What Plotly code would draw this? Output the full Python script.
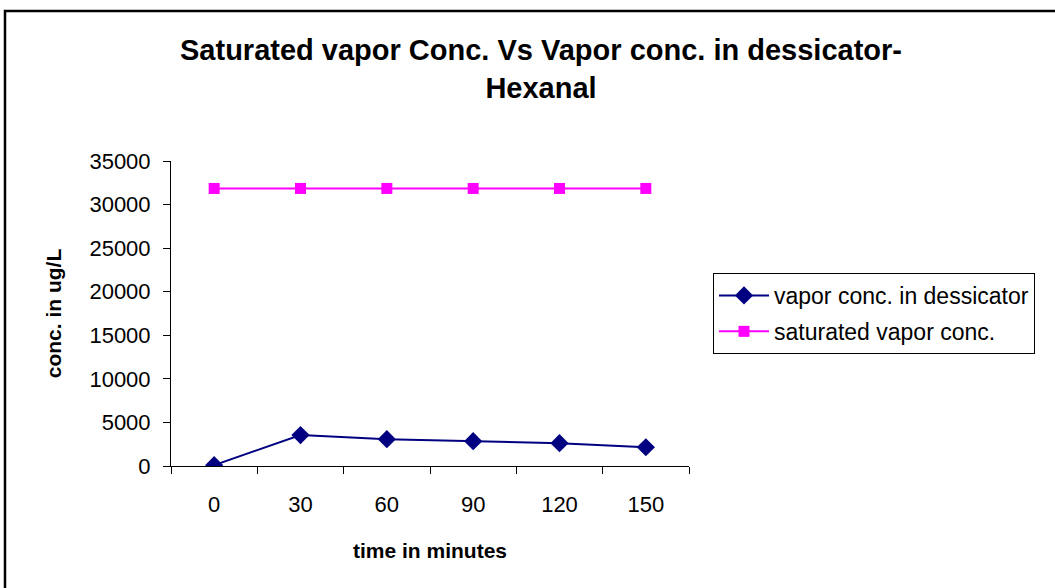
import plotly.graph_objects as go

categories = ["0", "30", "60", "90", "120", "150"]
vapor_in_dessicator = [100, 3550, 3080, 2850, 2620, 2150]
saturated_vapor = [31850, 31850, 31850, 31850, 31850, 31850]
y_ticks = [0, 5000, 10000, 15000, 20000, 25000, 30000, 35000]

fig = go.Figure()
fig.add_trace(go.Scatter(
    x=categories, y=vapor_in_dessicator, mode="lines+markers",
    name="vapor conc. in dessicator", legendgroup="a",
    line=dict(color="#000080", width=2),
    marker=dict(symbol="diamond", size=14, color="#000080"),
))
fig.add_trace(go.Scatter(
    x=categories, y=saturated_vapor, mode="lines+markers",
    name="saturated vapor conc.", legendgroup="b",
    line=dict(color="#FF00FF", width=2),
    marker=dict(symbol="square", size=11, color="#FF00FF"),
))

L, R, T, B = 171, 689, 161, 466
W, H = 1055, 588
pw, ph = R - L, B - T

fig.update_layout(
    width=W, height=H,
    margin=dict(l=L, r=W - R, t=T, b=H - B),
    paper_bgcolor="white", plot_bgcolor="white",
    font=dict(family="Liberation Sans, Arial, sans-serif", size=20, color="black"),
    title=dict(
        text="<b>Saturated vapor Conc. Vs Vapor conc. in dessicator-<br>Hexanal</b>",
        x=541 / W, xanchor="center", y=1 - 60 / H, yanchor="middle",
        font=dict(size=29, color="black"),
    ),
    xaxis=dict(
        type="category", tickson="boundaries", ticks="outside", ticklen=7,
        tickcolor="black", showline=True, linecolor="black", linewidth=1,
        showgrid=False, zeroline=False, range=[-0.5, 5.5],
        tickfont=dict(size=22), ticklabelstandoff=19,
        title=dict(text="<b>time in minutes</b>", font=dict(size=21), standoff=26),
    ),
    yaxis=dict(
        range=[0, 35000], tickvals=y_ticks, tickformat="d", ticks="outside", ticklen=7,
        tickcolor="black", showline=True, linecolor="black", linewidth=1,
        showgrid=False, zeroline=False, tickfont=dict(size=22), ticklabelstandoff=8,
        title=dict(text="<b>conc. in ug/L</b>", font=dict(size=21), standoff=22),
    ),
    legend=dict(
        x=(713 - L) / pw, xanchor="left", y=(B - 273) / ph, yanchor="top",
        bordercolor="black", borderwidth=1, bgcolor="white",
        font=dict(size=23), tracegroupgap=3, itemwidth=50,
    ),
    showlegend=True,
)

fig.add_shape(
    type="rect", xref="paper", yref="paper",
    x0=(5 - L) / pw, x1=(1070 - L) / pw,
    y0=(B - 600) / ph, y1=(B - 11) / ph,
    line=dict(color="black", width=2.5), fillcolor="rgba(0,0,0,0)", layer="below",
)

fig.write_html("out.html", config={"displayModeBar": False},
               post_script="document.body.style.margin='0';")
